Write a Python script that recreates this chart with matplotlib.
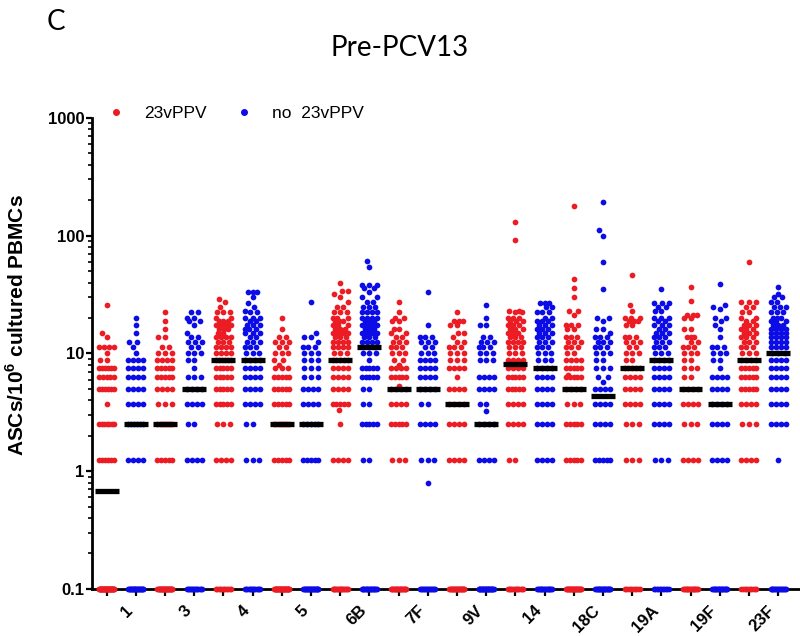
import numpy as np
import matplotlib.pyplot as plt
from matplotlib.lines import Line2D
from matplotlib.ticker import LogLocator, NullFormatter

plt.rcParams["font.family"] = ["Liberation Sans", "DejaVu Sans"]
plt.rcParams["mathtext.fontset"] = "custom"
plt.rcParams["mathtext.bf"] = "Liberation Sans:bold"
plt.rcParams["mathtext.rm"] = "Liberation Sans"

serotypes = ["1", "3", "4", "5", "6B", "7F", "9V", "14", "18C", "19A", "19F", "23F"]

# discrete readout levels (0.1 = no spots)
levels = [0.1, 1.25, 2.5, 3.75, 5, 6.25, 7.5, 8.75, 10]

# 23vPPV group: subjects per level, then the remaining single values
ppv_counts = [
    [41, 6, 7, 1, 6, 5, 6, 2, 1],   # 1
    [30, 5, 8, 3, 4, 5, 5, 4, 3],   # 3
    [12, 4, 3, 5, 5, 5, 5, 6, 4],   # 4
    [35, 5, 8, 5, 5, 5, 3, 2, 3],   # 5
    [18, 4, 1, 5, 4, 4, 4, 5, 3],   # 6B
    [22, 3, 5, 4, 4, 5, 4, 2, 3],   # 7F
    [24, 4, 4, 4, 4, 1, 4, 3, 3],   # 9V
    [14, 2, 4, 4, 5, 5, 4, 4, 3],   # 14
    [26, 5, 5, 3, 4, 5, 5, 4, 2],   # 18C
    [10, 3, 3, 4, 4, 4, 5, 2, 3],   # 19A
    [18, 4, 3, 4, 4, 2, 3, 2, 3],   # 19F
    [10, 4, 3, 4, 5, 5, 5, 4, 3],   # 23F
]
ppv_other = [
    [11.25, 11.25, 11.25, 11.25, 13.75, 15, 26],
    [11.25, 11.25, 13.75, 13.75, 16.25, 18.75, 22.5],
    [11.25, 11.25, 11.25, 11.25, 12.5, 12.5, 12.5, 13.75, 13.75, 13.75, 13.75,
     15, 15, 16.25, 16.25, 16.25, 17.5, 17.5, 17.5, 17.5, 18.75, 18.75, 18.75,
     20, 20, 22.5, 22.5, 22.5, 25, 27.5, 29],
    [8, 11.25, 11.25, 12.5, 12.5, 12.5, 13.75, 13.75, 16.25, 20],
    [3.3, 11.25, 11.25, 11.25, 11.25, 12.5, 12.5, 12.5, 12.5, 13.75, 13.75, 13.75,
     15, 15, 15, 15, 16.25, 16.25, 16.25, 17.5, 17.5, 17.5, 18.75, 18.75, 18.75,
     20, 20, 20, 22.5, 22.5, 22.5, 25, 25, 27.5, 30, 32, 34, 34, 40],
    [5.3, 8, 11.25, 11.25, 11.25, 12.5, 12.5, 12.5, 13.75, 13.75, 15, 15,
     16.25, 16.25, 18.75, 18.75, 20, 20, 22.5, 27.5],
    [11.25, 11.25, 11.25, 12.5, 12.5, 13.75, 15, 15, 17.5, 17.5,
     18.75, 18.75, 18.75, 22.5],
    [11.25, 11.25, 11.25, 12.5, 12.5, 12.5, 12.5, 13.75, 13.75, 13.75, 15, 15, 15,
     16.25, 16.25, 16.25, 17.5, 17.5, 17.5, 18.75, 18.75, 18.75, 20, 20, 20,
     22.5, 22.5, 23, 23, 92, 130],
    [6.5, 11.25, 11.25, 11.25, 12.5, 12.5, 12.5, 13.75, 13.75, 13.75, 16, 16,
     17.5, 17.5, 17.5, 21, 23, 23, 30, 36, 43, 180],
    [11.25, 11.25, 12.5, 12.5, 12.5, 13.75, 13.75, 13.75, 17.5, 17.5,
     18.75, 18.75, 18.75, 20, 20, 20, 23, 26, 46],
    [11.25, 11.25, 11.25, 12.5, 12.5, 13.75, 13.75, 13.75, 16, 16, 20, 20,
     21, 21, 21, 28, 37],
    [11.25, 11.25, 11.25, 12.5, 12.5, 12.5, 13.75, 13.75, 13.75, 15, 15, 15,
     16.25, 16.25, 16.25, 17.5, 17.5, 17.5, 18.75, 18.75, 20, 20, 22.5, 22.5,
     25, 25, 27.5, 27.5, 27.5, 60],
]
ppv_median = [0.675, 2.5, 8.75, 2.5, 8.75, 5, 3.75, 8.125, 5, 7.5, 5, 8.75]

# no 23vPPV group
noppv_counts = [
    [24, 4, 6, 4, 4, 4, 4, 4, 1],   # 1
    [15, 4, 2, 4, 4, 3, 1, 2, 3],   # 3
    [14, 3, 2, 4, 4, 4, 4, 4, 3],   # 4
    [24, 5, 5, 4, 4, 3, 3, 3, 3],   # 5
    [20, 2, 5, 2, 2, 5, 5, 1, 3],   # 6B
    [16, 3, 4, 2, 4, 4, 4, 4, 3],   # 7F
    [26, 4, 4, 2, 4, 4, 0, 3, 3],   # 9V
    [18, 4, 4, 4, 4, 4, 4, 3, 3],   # 14
    [22, 5, 4, 4, 4, 2, 3, 2, 3],   # 18C
    [11, 3, 4, 4, 4, 4, 4, 4, 3],   # 19A
    [20, 4, 4, 4, 4, 4, 1, 2, 3],   # 19F
    [17, 1, 4, 4, 4, 4, 4, 4, 3],   # 23F
]
noppv_other = [
    [11.25, 12.5, 12.5, 15, 17.5, 20],
    [11.25, 11.25, 12.5, 12.5, 12.5, 13.75, 13.75, 15, 17.5, 18.75, 18.75,
     20, 20, 22.5, 22.5],
    [11.25, 11.25, 11.25, 12.5, 12.5, 12.5, 13.75, 13.75, 15, 15, 15,
     16.25, 16.25, 16.25, 17.5, 17.5, 17.5, 18.75, 18.75, 20, 20, 20,
     22.5, 22.5, 23, 25, 27, 30, 33, 33, 33],
    [11.25, 11.25, 11.25, 12.5, 13.75, 13.75, 15, 27.5],
    [11.25, 11.25, 11.25, 12.5, 12.5, 12.5, 12.5, 13.75, 13.75, 13.75,
     15, 15, 15, 15, 16.25, 16.25, 16.25, 17.5, 17.5, 17.5, 17.5,
     18.75, 18.75, 18.75, 20, 20, 20, 20, 22.5, 22.5, 22.5, 22.5,
     25, 25, 25, 27.5, 27.5, 30, 30, 33, 36, 36, 38, 38, 38, 54, 61],
    [0.8, 11.25, 11.25, 12.5, 12.5, 12.5, 13.75, 13.75, 13.75, 17.5, 33.5],
    [3.25, 11.25, 11.25, 11.25, 12.5, 12.5, 12.5, 13.75, 13.75, 17.5, 17.5, 20, 26],
    [11.25, 11.25, 11.25, 12.5, 12.5, 12.5, 13.75, 13.75, 13.75, 15, 15, 15,
     16.25, 16.25, 16.25, 17.5, 17.5, 17.5, 18.75, 18.75, 18.75, 20, 20,
     22.5, 22.5, 22.5, 25, 25, 27, 27, 27],
    [5.7, 11.25, 11.25, 11.25, 12.5, 12.5, 12.5, 13.75, 13.75, 13.75, 15,
     16.25, 16.25, 19, 20, 20, 35, 60, 100, 111, 195],
    [11.25, 11.25, 11.25, 12.5, 12.5, 12.5, 13.75, 13.75, 13.75, 15, 15, 15,
     16.25, 16.25, 17.5, 17.5, 17.5, 18.75, 18.75, 20, 20, 20,
     23, 23, 25, 25, 27, 27, 27, 35],
    [11.25, 11.25, 11.25, 13.75, 16, 17.5, 18.75, 20, 20, 24, 25, 26, 38.5],
    [11.25, 11.25, 11.25, 11.25, 12.5, 12.5, 12.5, 12.5, 13.75, 13.75, 13.75, 13.75,
     15, 15, 15, 15, 16.25, 16.25, 16.25, 16.25, 17.5, 17.5, 17.5,
     18.75, 18.75, 18.75, 20, 20, 20, 22.5, 22.5, 22.5, 25, 25, 25,
     27.5, 27.5, 30, 30, 32, 37],
]
noppv_median = [2.5, 5, 8.75, 2.5, 11.25, 5, 2.5, 7.5, 4.375, 8.75, 3.75, 10]

RED = "#ec1c24"
BLUE = "#0c0ce6"


def column_values(counts, other):
    return np.concatenate([np.repeat(levels, counts), other])


# simple beeswarm in pixel space; rows too wide for the column get squeezed
def swarm(ypix, dot, half):
    n = len(ypix)
    xs = np.zeros(n)
    done = np.zeros(n, dtype=bool)
    for v in np.unique(ypix):
        idx = np.where(ypix == v)[0]
        if (len(idx) - 1) * dot > 2 * half:
            xs[idx] = np.linspace(-half, half, len(idx))
            done[idx] = True
    for i in np.argsort(ypix, kind="stable"):
        if done[i]:
            continue
        near = done & (np.abs(ypix - ypix[i]) < dot)
        nx = xs[near]
        dy = ypix[near] - ypix[i]
        cands = [0.0]
        for x0, d0 in zip(nx, dy):
            r = np.sqrt(dot**2 - d0**2)
            cands += [x0 - r, x0 + r]
        cands = sorted(cands, key=abs)
        best = None
        for c in cands:
            if abs(c) > half + 0.01:
                continue
            if np.all((nx - c)**2 + dy**2 >= dot**2 - 1e-6):
                best = c
                break
        if best is None:
            grid = np.linspace(-half, half, 29)
            gaps = [np.min((nx - g)**2 + dy**2) for g in grid]
            best = grid[int(np.argmax(gaps))]
        xs[i] = best
        done[i] = True
    return xs


fig = plt.figure(figsize=(8, 6.36), dpi=100)
ax = fig.add_axes([0.115, 0.074, 0.885, 0.7406])
ax.set_yscale("log")
ax.set_ylim(0.1, 1000)
ax.set_xlim(0.5, 24.75)

bbox = ax.get_window_extent()
px_x = bbox.width / (24.75 - 0.5)
px_dec = bbox.height / 4.0

for i in range(len(serotypes)):
    cols = [
        (2 * i + 1, column_values(ppv_counts[i], ppv_other[i]), ppv_median[i], RED),
        (2 * i + 2, column_values(noppv_counts[i], noppv_other[i]), noppv_median[i], BLUE),
    ]
    for pos, vals, med, color in cols:
        off = swarm(np.log10(vals) * px_dec, 6.6, 7.5)
        ax.scatter(pos + off / px_x, vals, s=17, color=color, linewidths=0,
                   clip_on=False, zorder=3)
        ax.hlines(med, pos - 0.41, pos + 0.41, colors="black", linewidth=3.8, zorder=4)

# axes styling
for side in ["top", "right"]:
    ax.spines[side].set_visible(False)
for side in ["left", "bottom"]:
    ax.spines[side].set_linewidth(2)

ax.set_yticks([0.1, 1, 10, 100, 1000])
ax.set_yticklabels(["0.1", "1", "10", "100", "1000"], fontweight="bold")
ax.yaxis.set_minor_locator(LogLocator(base=10, subs=np.arange(2, 10)))
ax.yaxis.set_minor_formatter(NullFormatter())
ax.tick_params(axis="y", which="major", length=4.5, width=1.6, labelsize=12, pad=1)
ax.tick_params(axis="y", which="minor", length=3, width=1.2)

xlabels = []
for s in serotypes:
    xlabels += ["", s]
ax.set_xticks(np.arange(1, 25))
ax.set_xticklabels(xlabels, rotation=45, ha="right", fontweight="bold")
ax.tick_params(axis="x", length=5, width=1.6, labelsize=12, pad=5)

ax.set_ylabel(r"ASCs/10$^{\mathbf{6}}$ cultured PBMCs", fontsize=15, fontweight="bold")
ax.yaxis.set_label_coords(-0.09, 0.56)

handles = [
    Line2D([], [], marker="o", linestyle="", color=RED, markersize=4),
    Line2D([], [], marker="o", linestyle="", color=BLUE, markersize=4),
]
fig.legend(handles, ["23vPPV", "no  23vPPV"], loc="center left",
           bbox_to_anchor=(0.134, 0.822), ncol=2, frameon=False, fontsize=12.5,
           handlelength=1.0, handletextpad=1.1, columnspacing=1.7,
           borderpad=0, borderaxespad=0)

fig.text(0.5, 0.925, "Pre-PCV13", fontsize=20, family="Lato", ha="center", va="center")
fig.text(0.07, 0.965, "C", fontsize=20, family="Lato", ha="center", va="center")

fig.savefig("out.png", dpi=100)
